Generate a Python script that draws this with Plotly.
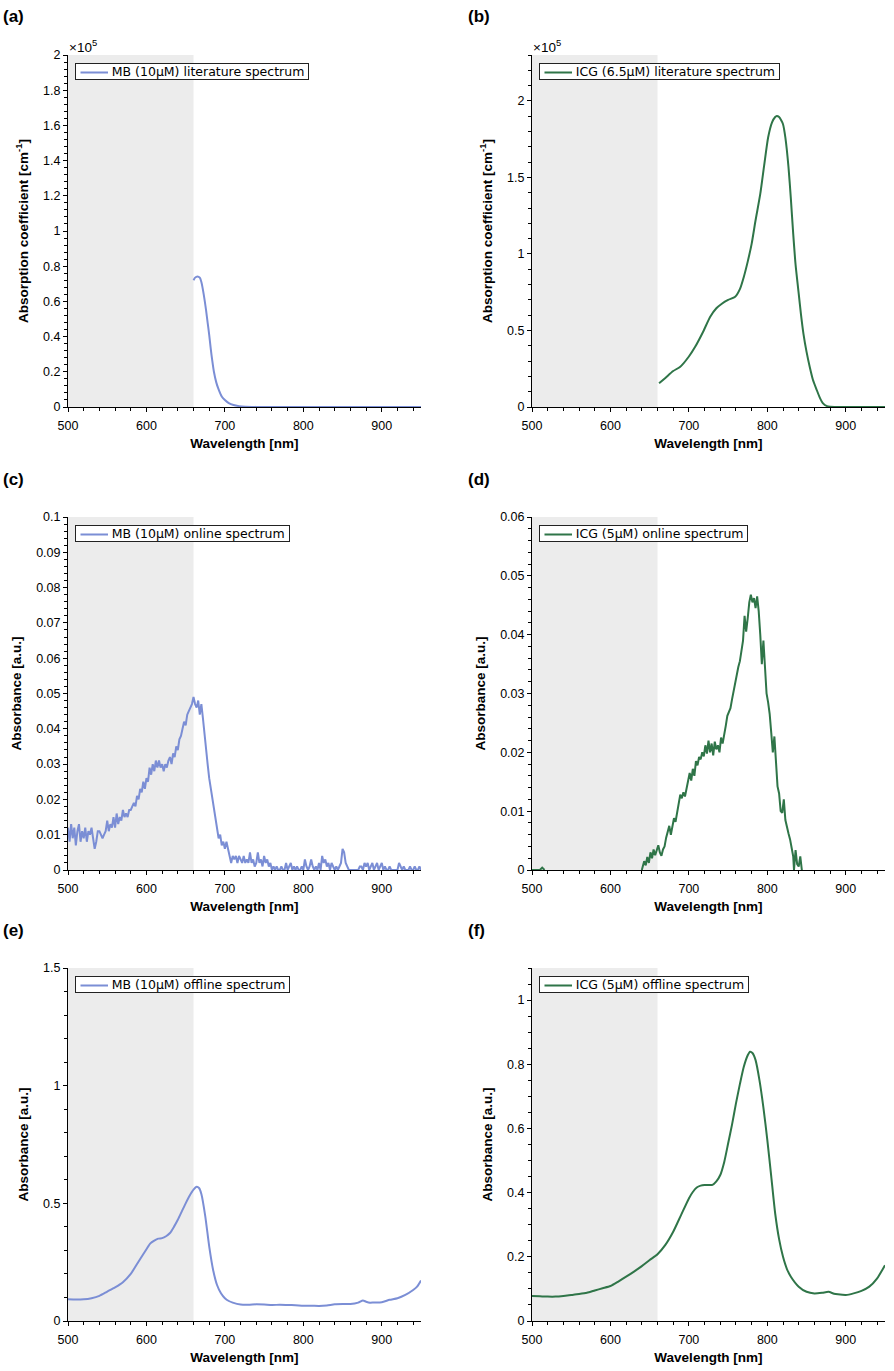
import plotly.graph_objects as go

# ---------------- data ----------------
mb_lit_wl = [660, 662, 665, 668, 670, 673, 676, 678, 680, 682, 684, 686, 689, 692, 696, 700, 705, 711, 718, 726, 740, 760, 800, 850, 900, 950]
mb_lit_val = [0.72, 0.735, 0.742, 0.735, 0.71, 0.64, 0.55, 0.48, 0.41, 0.33, 0.26, 0.20, 0.14, 0.10, 0.06, 0.04, 0.022, 0.011, 0.005, 0.002, 0.0005, 0.0, 0.0, 0.0, 0.0, 0.0]

icg_lit_wl = [662, 670, 680, 689, 700, 708, 718, 727, 735, 742, 750, 759, 765, 770, 775, 780, 785, 791, 796, 801, 806, 810, 812, 815, 818, 820, 823, 827, 830, 833, 836, 840, 843, 846, 850, 854, 858, 863, 867, 871, 876, 880, 900, 950]
icg_lit_val = [0.155, 0.19, 0.235, 0.263, 0.33, 0.393, 0.49, 0.588, 0.645, 0.675, 0.70, 0.72, 0.77, 0.85, 0.95, 1.066, 1.22, 1.392, 1.58, 1.761, 1.86, 1.895, 1.902, 1.895, 1.87, 1.848, 1.76, 1.566, 1.36, 1.131, 0.93, 0.741, 0.60, 0.48, 0.36, 0.263, 0.18, 0.111, 0.06, 0.024, 0.006, 0.002, 0.0, 0.0]

mb_on_wl = list(range(500, 951, 2))
mb_on_val = [
    0.012, 0.008, 0.013, 0.009, 0.012, 0.007, 0.011, 0.013, 0.008, 0.011,
    0.009, 0.012, 0.008, 0.011, 0.010, 0.012, 0.009, 0.006, 0.008, 0.011,
    0.011, 0.010, 0.009, 0.010, 0.011, 0.014, 0.011, 0.013, 0.012, 0.015,
    0.012, 0.016, 0.013, 0.015, 0.014, 0.017, 0.015, 0.016, 0.015, 0.017,
    0.017, 0.018, 0.019, 0.018, 0.021, 0.020, 0.023, 0.022, 0.025, 0.023,
    0.026, 0.025, 0.029, 0.027, 0.030, 0.028, 0.031, 0.029, 0.031, 0.029,
    0.030, 0.028, 0.030, 0.029, 0.031, 0.032, 0.030, 0.033, 0.032, 0.035,
    0.034, 0.037, 0.038, 0.040, 0.042, 0.041, 0.044, 0.045, 0.046, 0.047,
    0.049, 0.047, 0.046, 0.048, 0.044, 0.047, 0.043, 0.038, 0.033, 0.030,
    0.026, 0.023, 0.020, 0.018, 0.014, 0.011, 0.009, 0.010, 0.007, 0.008,
    0.006, 0.008, 0.006, 0.004, 0.002, 0.004, 0.003, 0.004, 0.002, 0.004,
    0.003, 0.002, 0.004, 0.002, 0.003, 0.002, 0.005, 0.002, 0.003, 0.001,
    0.002, 0.005, 0.002, 0.003, 0.001, 0.004, 0.002, 0.003, 0.001, 0.002,
    0.000, 0.001, 0.000, 0.001, 0.000, 0.000, 0.001, 0.000, 0.000, 0.002,
    0.000, 0.001, 0.002, 0.000, 0.001, 0.000, 0.001, 0.000, 0.000, 0.001,
    0.000, 0.003, 0.001, 0.000, 0.001, 0.003, 0.001, 0.000, 0.001, 0.000,
    0.002, 0.000, 0.004, 0.002, 0.003, 0.001, 0.002, 0.000, 0.002, 0.001,
    0.000, 0.001, 0.000, 0.001, 0.002, 0.006, 0.005, 0.002, 0.001, 0.000,
    0.000, 0.000, 0.000, 0.000, 0.000, 0.000, 0.001, 0.001, 0.000, 0.002,
    0.001, 0.002, 0.000, 0.001, 0.002, 0.000, 0.001, 0.002, 0.000, 0.001,
    0.002, 0.000, 0.001, 0.000, 0.000, 0.001, 0.000, 0.000, 0.000, 0.000,
    0.000, 0.002, 0.001, 0.000, 0.001, 0.000, 0.000, 0.000, 0.001, 0.000,
    0.000, 0.001, 0.000, 0.000, 0.001, 0.000,
]

icg_on_wl = [500, 510, 513, 516, None,
             640, 643, 645, 647, 649, 651, 653, 655, 657, 659, 661, 663, 665, 667, 669,
             671, 673, 675, 677, 679, 681, 683, 685, 687, 689, 691, 693, 695, 697, 699,
             701, 703, 705, 707, 709, 711, 713, 715, 717, 719, 721, 723, 725, 727, 729,
             731, 733, 735, 737, 739, 741, 743, 745, 747, 749, 751, 753, 755, 757, 759,
             761, 763, 765, 767, 769, 771, 773, 775, 777, 779, 781, 783, 785, 787, 789,
             791, 793, 795, 797, 799, 801, 803, 805, 807, 809, 811, 813, 815, 817, 819,
             821, 823, 825, 827, 829, 831, 833, 834, 836, 838, 840, 842, 844]
icg_on_val = [0.0, 0.0, 0.0004, 0.0, None,
              0.0000, 0.0015, 0.0008, 0.0022, 0.0012, 0.0030, 0.0020, 0.0035, 0.0025, 0.0032,
              0.0042, 0.0030, 0.0024, 0.0035, 0.0040, 0.0055, 0.0068, 0.0075, 0.0060, 0.0072,
              0.0088, 0.0082, 0.0100, 0.0112, 0.0128, 0.0122, 0.0132, 0.0125, 0.0140, 0.0150,
              0.0165, 0.0152, 0.0172, 0.0160, 0.0185, 0.0178, 0.0192, 0.0188, 0.0200, 0.0193,
              0.0212, 0.0198, 0.0220, 0.0200, 0.0215, 0.0195, 0.0218, 0.0205, 0.0212, 0.0200,
              0.0225, 0.0215, 0.0228, 0.0245, 0.0262, 0.0270, 0.0275, 0.0290, 0.0305, 0.0318,
              0.0330, 0.0345, 0.0355, 0.0372, 0.0390, 0.0432, 0.0405, 0.0428, 0.0455, 0.0468,
              0.0455, 0.0462, 0.0445, 0.0465, 0.0440, 0.0400, 0.0350, 0.0390, 0.0335, 0.0300,
              0.0285, 0.0265, 0.0233, 0.0200, 0.0227, 0.0180, 0.0142, 0.0130, 0.0100, 0.0097,
              0.0120, 0.0085, 0.0070, 0.0062, 0.0052, 0.0040, 0.0023, 0.0000, 0.0034, 0.0010,
              0.0006, 0.0023, 0.0000]

mb_off_wl = [500, 510, 520, 530, 540, 550, 560, 570, 580, 590, 600, 605, 610, 615, 620, 625, 630, 635, 640, 645, 650, 655, 660, 664, 667, 670, 675, 680, 685, 690, 695, 700, 705, 710, 720, 730, 740, 750, 760, 770, 780, 790, 800, 810, 820, 830, 840, 850, 860, 870, 876, 880, 885, 890, 900, 910, 920, 930, 940, 945, 950]
mb_off_val = [0.092, 0.091, 0.092, 0.097, 0.107, 0.125, 0.143, 0.165, 0.200, 0.253, 0.305, 0.330, 0.342, 0.350, 0.352, 0.360, 0.374, 0.400, 0.430, 0.465, 0.500, 0.532, 0.558, 0.570, 0.565, 0.540, 0.445, 0.317, 0.217, 0.153, 0.118, 0.097, 0.085, 0.078, 0.070, 0.069, 0.071, 0.070, 0.068, 0.069, 0.068, 0.067, 0.065, 0.065, 0.064, 0.066, 0.071, 0.072, 0.072, 0.078, 0.087, 0.082, 0.078, 0.079, 0.080, 0.090, 0.097, 0.111, 0.132, 0.146, 0.172]

icg_off_wl = [500, 510, 520, 530, 540, 550, 560, 570, 580, 590, 600, 610, 620, 630, 640, 650, 660, 670, 680, 690, 700, 705, 710, 715, 720, 725, 730, 735, 740, 745, 750, 755, 760, 765, 770, 775, 778, 781, 785, 790, 795, 800, 805, 810, 815, 820, 825, 830, 840, 850, 860, 870, 878, 885, 890, 900, 910, 920, 930, 940, 950]
icg_off_val = [0.078, 0.077, 0.076, 0.076, 0.078, 0.081, 0.084, 0.088, 0.095, 0.102, 0.109, 0.123, 0.138, 0.154, 0.171, 0.190, 0.208, 0.237, 0.278, 0.330, 0.382, 0.402, 0.416, 0.422, 0.424, 0.424, 0.424, 0.435, 0.455, 0.495, 0.553, 0.612, 0.678, 0.738, 0.792, 0.828, 0.839, 0.835, 0.813, 0.750, 0.665, 0.564, 0.450, 0.335, 0.255, 0.200, 0.162, 0.138, 0.107, 0.091, 0.086, 0.088, 0.091, 0.085, 0.083, 0.081, 0.086, 0.094, 0.107, 0.133, 0.174]

legend_texts = ["MB (10\u03bcM) literature spectrum", "ICG (6.5\u03bcM) literature spectrum",
                "MB (10\u03bcM) online spectrum", "ICG (5\u03bcM) online spectrum",
                "MB (10\u03bcM) offline spectrum", "ICG (5\u03bcM) offline spectrum"]
panel_labels = ["(a)", "(b)", "(c)", "(d)", "(e)", "(f)"]
y_titles = ["Absorption coefficient [cm<sup>-1</sup>]", "Absorption coefficient [cm<sup>-1</sup>]",
            "Absorbance [a.u.]", "Absorbance [a.u.]", "Absorbance [a.u.]", "Absorbance [a.u.]"]
x_title = "Wavelength [nm]"
shade_range = [500, 660]

# ---------------- styling ----------------
W, H = 894, 1371
MB_COLOR = "#7b8ed5"
ICG_COLOR = "#2f7548"
TICK_FONT = dict(family="Liberation Sans, Arial, sans-serif", size=12.5, color="black")
TITLE_FONT = dict(family="Liberation Sans, Arial, sans-serif", size=13.5, color="black", weight="bold")
LEG_FONT = dict(family="DejaVu Sans, sans-serif", size=12.5, color="black")

col_px = [(68, 421), (532, 885)]
row_px = [(55, 407), (517, 870), (968, 1321)]

series = [
    (mb_lit_wl, mb_lit_val, MB_COLOR, "spline"),
    (icg_lit_wl, icg_lit_val, ICG_COLOR, "spline"),
    (mb_on_wl, mb_on_val, MB_COLOR, "linear"),
    (icg_on_wl, icg_on_val, ICG_COLOR, "linear"),
    (mb_off_wl, mb_off_val, MB_COLOR, "spline"),
    (icg_off_wl, icg_off_val, ICG_COLOR, "spline"),
]
y_specs = [
    dict(range=[0, 2.0], dtick=0.2, minor=0.04),
    dict(range=[0, 2.3], dtick=0.5, minor=0.1),
    dict(range=[0, 0.1], dtick=0.01, minor=0.002),
    dict(range=[0, 0.06], dtick=0.01, minor=0.002),
    dict(range=[0, 1.5], dtick=0.5, minor=0.1),
    dict(range=[0, 1.1], dtick=0.2, minor=0.05),
]

fig = go.Figure()
layout = dict(width=W, height=H, margin=dict(l=0, r=0, t=0, b=0, autoexpand=False),
              paper_bgcolor="white", plot_bgcolor="white", showlegend=False)
annotations = []
shapes = []

for i in range(6):
    r, c = divmod(i, 2)
    x0, x1 = col_px[c]
    top, bot = row_px[r]
    xd = [x0 / W, x1 / W]
    yd = [1 - bot / H, 1 - top / H]
    n = "" if i == 0 else str(i + 1)
    xa, ya = "x" + n, "y" + n
    wl, val, colr, shp = series[i]
    line = dict(color=colr, width=2, shape=shp)
    if shp == "spline":
        line["smoothing"] = 0.6
    fig.add_trace(go.Scatter(x=wl, y=val, mode="lines", name=legend_texts[i],
                             line=line, xaxis=xa, yaxis=ya,
                             connectgaps=False, cliponaxis=True))
    layout["xaxis" + n] = dict(domain=xd, anchor=ya, range=[500, 950], dtick=100, tick0=500,
                               automargin=False,
                               showline=True, linecolor="black", linewidth=1, mirror=False,
                               ticks="outside", ticklen=4, tickcolor="black", showgrid=False,
                               zeroline=False, tickfont=TICK_FONT, ticklabelstandoff=3,
                               minor=dict(dtick=20, ticks="outside", ticklen=3, tickcolor="black", showgrid=False),
                               title=dict(text=x_title, font=TITLE_FONT, standoff=6))
    ys = y_specs[i]
    layout["yaxis" + n] = dict(domain=yd, anchor=xa, range=ys["range"], dtick=ys["dtick"], tick0=0,
                               automargin=False,
                               showline=True, linecolor="black", linewidth=1, mirror=False,
                               ticks="outside", ticklen=4, tickcolor="black", showgrid=False,
                               zeroline=False, tickfont=TICK_FONT,
                               minor=dict(dtick=ys["minor"], ticks="outside", ticklen=3, tickcolor="black", showgrid=False),
                               title=dict(text=y_titles[i], font=TITLE_FONT, standoff=11))
    # legend: bordered text box with room reserved for the line sample, then the sample on top
    lx = x0 + 7
    ly = top + 8
    annotations.append(dict(text="\u00a0" * 9 + legend_texts[i] + "\u00a0", xref="paper", yref="paper",
                            x=lx / W, y=1 - ly / H, xanchor="left", yanchor="top", showarrow=False,
                            align="left", font=LEG_FONT, bgcolor="white", bordercolor="#222",
                            borderwidth=1, borderpad=0))
    annotations.append(dict(text="", xref="paper", yref="paper",
                            x=(lx + 33) / W, y=1 - (ly + 9.5) / H, ax=-29, ay=0,
                            showarrow=True, arrowhead=0, arrowwidth=2, arrowcolor=colr,
                            standoff=0, startstandoff=0))
    shapes.append(dict(type="rect", xref=xa, yref=ya + " domain", x0=shade_range[0], x1=shade_range[1],
                       y0=0, y1=1, fillcolor="#ececec", line=dict(width=0), layer="below"))
    annotations.append(dict(text="<b>" + panel_labels[i] + "</b>", xref="paper", yref="paper",
                            x=(1 if c == 0 else 466) / W, y=1 - (top - 38) / H,
                            xanchor="left", yanchor="middle", showarrow=False,
                            font=dict(family="Liberation Sans, Arial, sans-serif", size=17, color="black")))
    if r == 0:
        annotations.append(dict(text="\u00d710<sup>5</sup>", xref="paper", yref="paper",
                                x=(x0 - 1) / W, y=1 - (top - 9) / H, xanchor="left", yanchor="middle",
                                showarrow=False, font=dict(family="Liberation Sans, Arial, sans-serif", size=13.5, color="black")))

layout["annotations"] = annotations
layout["shapes"] = shapes
fig.update_layout(**layout)
fig.write_html("out.html")
